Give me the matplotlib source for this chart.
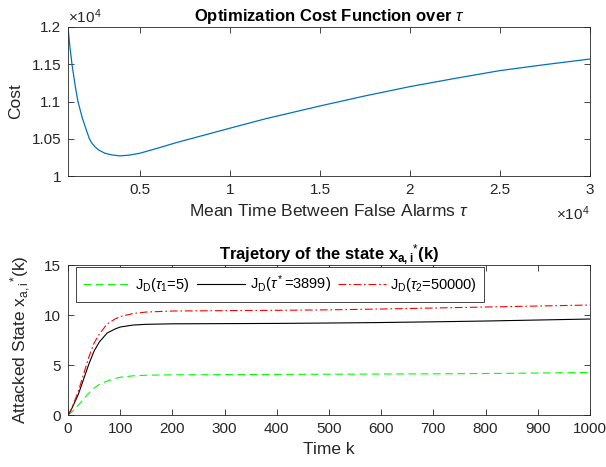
import numpy as np
import matplotlib
matplotlib.use('Agg')
import matplotlib.pyplot as plt
from matplotlib.ticker import FuncFormatter

plt.rcParams['font.family'] = ['Liberation Sans', 'DejaVu Sans']
plt.rcParams['mathtext.fontset'] = 'custom'
plt.rcParams['mathtext.rm'] = 'Liberation Sans'
plt.rcParams['mathtext.it'] = 'Liberation Sans:italic'
plt.rcParams['mathtext.bf'] = 'Liberation Sans:bold'

# top panel: cost vs mean time between false alarms
tauValues = [1000, 1100, 1221, 1400, 1553, 1800, 2000, 2180, 2300, 2490, 2700, 3046,
             3400, 3876, 4400, 5000, 6000, 7000, 8000, 9000, 10000, 12000, 15000,
             17500, 20000, 22500, 25000, 27500, 30000]
costValues = [12000, 11750, 11500, 11210, 11000, 10775, 10630, 10505, 10450, 10394,
              10350, 10306, 10285, 10270, 10280, 10306, 10375, 10447, 10512, 10577,
              10642, 10770, 10940, 11075, 11200, 11310, 11415, 11495, 11570]

# bottom panel: attacked state trajectories
timeSteps = [0, 5, 10, 20, 30, 40, 50, 60, 75, 90, 100, 125, 150, 200, 300, 400,
             500, 600, 700, 800, 900, 1000]
stateTau1 = [0, 0.2, 0.45, 1.0, 1.6, 2.2, 2.7, 3.05, 3.4, 3.65, 3.78, 3.92, 3.98,
             4.02, 4.04, 4.06, 4.08, 4.1, 4.12, 4.15, 4.2, 4.25]
stateTauStar = [0, 0.4, 0.95, 2.1, 3.6, 5.1, 6.4, 7.3, 8.2, 8.6, 8.8, 9.0, 9.07,
                9.12, 9.14, 9.16, 9.2, 9.25, 9.32, 9.4, 9.5, 9.6]
stateTau2 = [0, 0.45, 1.05, 2.4, 4.1, 5.8, 7.2, 8.1, 9.1, 9.6, 9.85, 10.15, 10.3,
             10.4, 10.44, 10.47, 10.52, 10.6, 10.7, 10.8, 10.9, 11.0]
legendLabels = [r'J$_\mathrm{D}$($\tau_1$=5)', r'J$_\mathrm{D}$($\tau^*$=3899)',
                r'J$_\mathrm{D}$($\tau_2$=50000)']

axisColor = (0.15, 0.15, 0.15)


def styleAxes(ax):
    for spine in ax.spines.values():
        spine.set_color(axisColor)
        spine.set_linewidth(0.6)
    ax.tick_params(direction='in', top=True, right=True, length=4, width=0.6,
                   color=axisColor, labelsize=11, labelcolor=axisColor, pad=5)


fig = plt.figure(figsize=(6.06, 4.67), dpi=100)

axTop = fig.add_axes([0.1122, 0.6231, 0.8614, 0.3191])
axTop.plot(tauValues, costValues, color=(0, 0.447, 0.741), linewidth=0.9)
axTop.set_xlim(1000, 30000)
axTop.set_ylim(10000, 12000)
axTop.set_xticks([5000, 10000, 15000, 20000, 25000, 30000])
axTop.set_yticks([10000, 10500, 11000, 11500, 12000])
formatE4 = FuncFormatter(lambda v, pos: '%g' % round(v / 1e4, 4))
axTop.xaxis.set_major_formatter(formatE4)
axTop.yaxis.set_major_formatter(formatE4)
styleAxes(axTop)
axTop.set_title(r'Optimization Cost Function over $\tau$', fontsize=12,
                fontweight='bold', pad=4)
axTop.set_xlabel(r'Mean Time Between False Alarms $\tau$', fontsize=12.5,
                 color=axisColor, labelpad=4)
axTop.set_ylabel('Cost', fontsize=12.5, color=axisColor, labelpad=6)
axTop.text(0.0, 1.005, r'$\times$10$^4$', transform=axTop.transAxes, fontsize=11,
           color=axisColor, ha='left', va='bottom')
axTop.text(1.0, -0.19, r'$\times$10$^4$', transform=axTop.transAxes, fontsize=11,
           color=axisColor, ha='right', va='top')

axBot = fig.add_axes([0.1122, 0.1113, 0.8614, 0.3212])
axBot.plot(timeSteps, stateTau1, color=(0, 1, 0), linewidth=0.8,
           dashes=(7, 4), label=legendLabels[0])
axBot.plot(timeSteps, stateTauStar, color='black', linewidth=0.8,
           label=legendLabels[1])
axBot.plot(timeSteps, stateTau2, color=(1, 0, 0), linewidth=0.8,
           dashes=(7, 2.5, 1.5, 2.5), label=legendLabels[2])
axBot.set_xlim(0, 1000)
axBot.set_ylim(0, 15)
axBot.set_xticks(np.arange(0, 1001, 100))
axBot.set_yticks([0, 5, 10, 15])
styleAxes(axBot)
axBot.set_title(r'Trajetory of the state x$_{\mathbf{a,i}}$$^{*}$(k)', fontsize=12,
                fontweight='bold', pad=4)
axBot.set_xlabel('Time k', fontsize=12.5, color=axisColor, labelpad=4)
axBot.set_ylabel(r'Attacked State x$_\mathrm{a,i}$$^{*}$(k)', fontsize=12.5,
                 color=axisColor, labelpad=8)
leg = axBot.legend(loc='upper left', bbox_to_anchor=(0.016, 0.985), ncol=3,
                   fontsize=10.5, frameon=True, fancybox=False, edgecolor=axisColor,
                   framealpha=1, handlelength=3.3, columnspacing=0.5,
                   handletextpad=0.3, borderpad=0.45, borderaxespad=0)
leg.get_frame().set_linewidth(0.6)

fig.savefig('out.png', dpi=100)
